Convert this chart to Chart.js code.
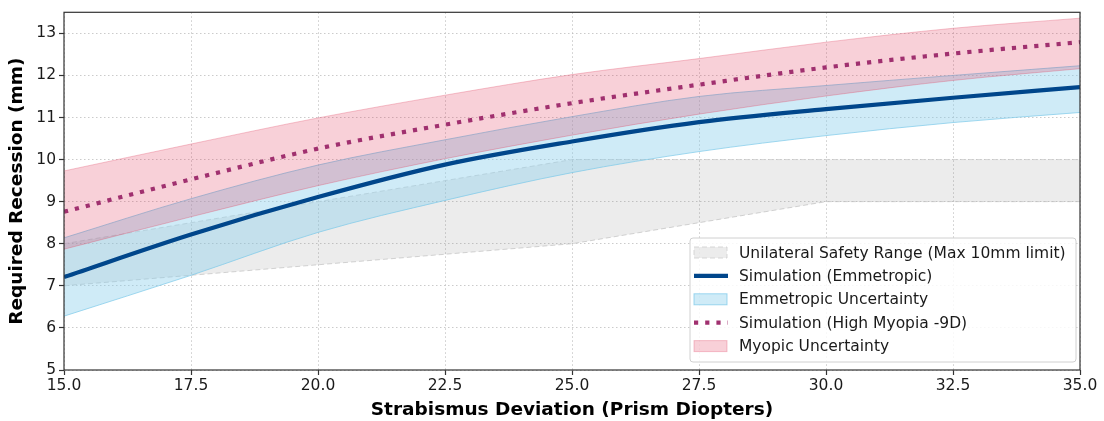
<!DOCTYPE html>
<html>
<head>
<meta charset="utf-8">
<script src="https://cdn.jsdelivr.net/npm/chart.js@4.4.0/dist/chart.umd.min.js"></script>
<style>
  html, body { margin: 0; padding: 0; background: #fff; }
  #wrap { width: 1104px; height: 421px; }
</style>
</head>
<body>
<div id="wrap"><canvas id="recession" width="1104" height="421"></canvas></div>
<script>
// deviation in prism diopters
const deviation = [15, 17.5, 20, 22.5, 25, 27.5, 30, 32.5, 35];

// emmetropic simulation + band
const emmMean = [7.21, 8.22, 9.11, 9.88, 10.43, 10.89, 11.20, 11.47, 11.72];
const emmLow  = [6.28, 7.25, 8.27, 9.03, 9.69, 10.19, 10.57, 10.88, 11.12];
const emmHigh = [8.14, 9.07, 9.87, 10.47, 11.02, 11.50, 11.76, 12.00, 12.23];

// high myopia -9D simulation + band
const myoMean = [8.76, 9.53, 10.26, 10.83, 11.34, 11.78, 12.19, 12.52, 12.79];
const myoLow  = [7.87, 8.64, 9.38, 10.02, 10.58, 11.08, 11.51, 11.88, 12.16];
const myoHigh = [9.73, 10.37, 10.99, 11.53, 12.02, 12.40, 12.79, 13.12, 13.36];

// unilateral safety range
const safeLow  = [7, 7.25, 7.5, 7.75, 8, 8.5, 9, 9, 9];
const safeHigh = [8, 8.5, 9, 9.5, 10, 10, 10, 10, 10];

const yTicks = [5, 6, 7, 8, 9, 10, 11, 12, 13];
const xTicks = [15, 17.5, 20, 22.5, 25, 27.5, 30, 32.5, 35];

const pts = ys => deviation.map((x, i) => ({ x: x, y: ys[i] }));

const FONT = "'DejaVu Sans', sans-serif";

// index 0 is drawn on top
const datasets = [
  { label: 'Simulation (High Myopia -9D)', data: pts(myoMean), borderColor: '#A0306F',
    borderWidth: 4.2, borderDash: [4.2, 7], borderCapStyle: 'butt', fill: false,
    cubicInterpolationMode: 'monotone', kind: 'line' },
  { label: 'Myopic Uncertainty', data: pts(myoHigh), borderColor: 'rgba(226,90,115,0.35)',
    backgroundColor: 'rgba(220,20,60,0.2)', borderWidth: 1, fill: { target: 2 },
    cubicInterpolationMode: 'monotone', kind: 'band' },
  { label: '', data: pts(myoLow), borderColor: 'rgba(226,90,115,0.35)', borderWidth: 1,
    fill: false, cubicInterpolationMode: 'monotone' },
  { label: 'Simulation (Emmetropic)', data: pts(emmMean), borderColor: '#00468B',
    borderWidth: 4.2, fill: false, cubicInterpolationMode: 'monotone', kind: 'line' },
  { label: 'Emmetropic Uncertainty', data: pts(emmHigh), borderColor: 'rgba(120,200,232,0.7)',
    backgroundColor: 'rgba(135,206,235,0.4)', borderWidth: 1, fill: { target: 5 },
    cubicInterpolationMode: 'monotone', kind: 'band' },
  { label: '', data: pts(emmLow), borderColor: 'rgba(120,200,232,0.7)', borderWidth: 1,
    fill: false, cubicInterpolationMode: 'monotone' },
  { label: 'Unilateral Safety Range (Max 10mm limit)', data: pts(safeHigh),
    borderColor: 'rgba(205,205,205,0.8)', backgroundColor: 'rgba(128,128,128,0.15)',
    borderWidth: 1, borderDash: [5, 3], fill: { target: 7 }, tension: 0, kind: 'band' },
  { label: '', data: pts(safeLow), borderColor: 'rgba(205,205,205,0.8)', borderWidth: 1,
    borderDash: [5, 3], fill: false, tension: 0 }
];

const legendOrder = [6, 3, 4, 0, 1];

// axes frame (all four spines)
const framePlugin = {
  id: 'frame',
  afterDatasetsDraw(chart) {
    const a = chart.chartArea, ctx = chart.ctx;
    ctx.save();
    ctx.strokeStyle = '#333';
    ctx.lineWidth = 1.2;
    ctx.strokeRect(a.left, a.top, a.right - a.left, a.bottom - a.top);
    ctx.restore();
  }
};

// matplotlib-like legend in the lower right corner
const legendPlugin = {
  id: 'boxLegend',
  afterDraw(chart) {
    const ctx = chart.ctx;
    const x0 = 690, y0 = 238, w = 386, h = 124, rowH = 23.4;
    ctx.save();
    ctx.beginPath();
    ctx.roundRect(x0, y0, w, h, 3);
    ctx.fillStyle = 'rgba(255,255,255,0.85)';
    ctx.fill();
    ctx.strokeStyle = '#d0d0d0';
    ctx.lineWidth = 1;
    ctx.stroke();
    ctx.font = '15.5px ' + FONT;
    ctx.textBaseline = 'middle';
    legendOrder.forEach((di, r) => {
      const ds = chart.data.datasets[di];
      const cy = y0 + 14.5 + r * rowH;
      if (ds.kind === 'band') {
        ctx.fillStyle = ds.backgroundColor;
        ctx.fillRect(694, cy - 5.5, 33, 11);
        ctx.strokeStyle = ds.borderColor;
        ctx.setLineDash(ds.borderDash || []);
        ctx.strokeRect(694, cy - 5.5, 33, 11);
      } else {
        ctx.strokeStyle = ds.borderColor;
        ctx.lineWidth = ds.borderWidth;
        ctx.setLineDash(ds.borderDash || []);
        ctx.beginPath();
        ctx.moveTo(694, cy);
        ctx.lineTo(728, cy);
        ctx.stroke();
        ctx.lineWidth = 1;
      }
      ctx.setLineDash([]);
      ctx.fillStyle = '#1a1a1a';
      ctx.fillText(ds.label, 739, cy + 1);
    });
    ctx.restore();
  }
};

const gridStyle = {
  color: 'rgba(185,185,185,0.75)',
  lineWidth: 1,
  tickColor: '#333',
  tickLength: 5,
  tickWidth: 1.2,
  tickBorderDash: []
};

new Chart(document.getElementById('recession'), {
  type: 'line',
  data: { datasets: datasets },
  options: {
    responsive: false,
    animation: false,
    layout: { padding: { top: 4, right: 24, left: 0, bottom: 0 } },
    elements: { point: { radius: 0 } },
    plugins: {
      legend: { display: false },
      tooltip: { enabled: false },
      filler: { propagate: false }
    },
    scales: {
      x: {
        type: 'linear', min: 15, max: 35,
        afterBuildTicks: s => { s.ticks = xTicks.map(v => ({ value: v })); },
        afterFit: s => { s.height = 51; },
        grid: gridStyle,
        border: { display: false, dash: [1.5, 2.5] },
        ticks: { padding: 2, color: '#1a1a1a', font: { family: FONT, size: 15.5 },
                 callback: v => v.toFixed(1), maxRotation: 0 },
        title: { display: true, text: 'Strabismus Deviation (Prism Diopters)', color: '#000',
                 font: { family: FONT, size: 18.5, weight: 'bold' }, padding: { top: 0, bottom: 0 } }
      },
      y: {
        type: 'linear', min: 5, max: 13.5,
        afterBuildTicks: s => { s.ticks = yTicks.map(v => ({ value: v })); },
        afterFit: s => { s.width = 64; },
        grid: gridStyle,
        border: { display: false, dash: [1.5, 2.5] },
        ticks: { padding: 3, color: '#1a1a1a', font: { family: FONT, size: 15.5 } },
        title: { display: true, text: 'Required Recession (mm)', color: '#000',
                 font: { family: FONT, size: 18.5, weight: 'bold' }, padding: { top: 6, bottom: 4 } }
      }
    }
  },
  plugins: [framePlugin, legendPlugin]
});
</script>
</body>
</html>
